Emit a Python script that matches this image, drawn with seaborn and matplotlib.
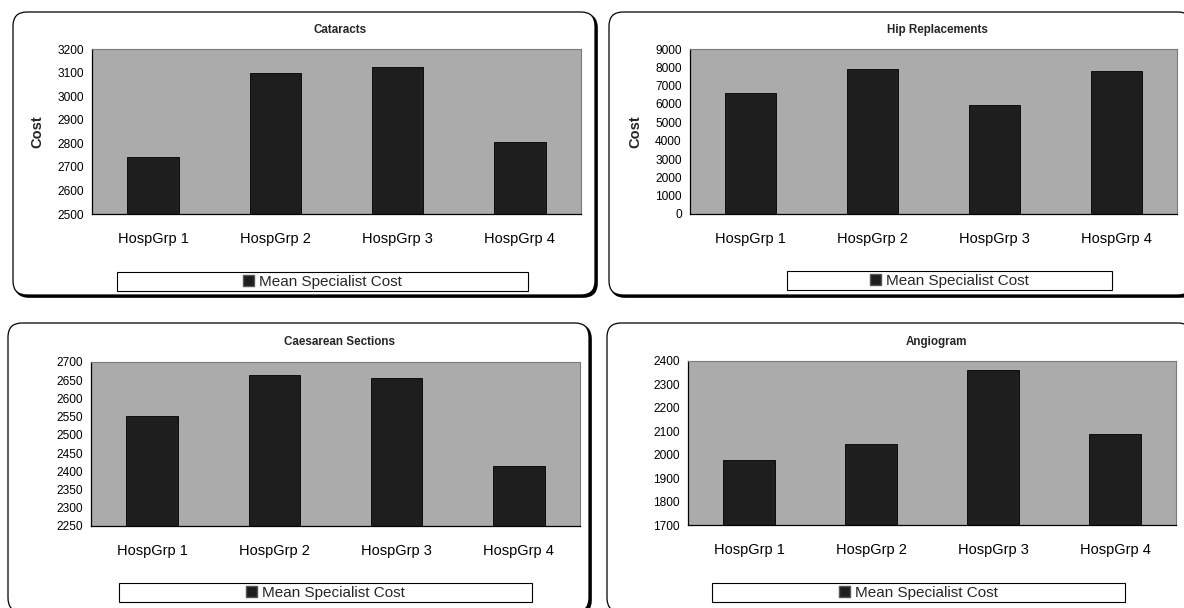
import matplotlib
matplotlib.use("Agg")
import matplotlib.pyplot as plt
from matplotlib.patches import FancyBboxPatch, Rectangle, Patch
import seaborn as sns
import pandas as pd

sns.set_theme(style="white")
plt.rcParams["font.family"] = ["Liberation Sans", "DejaVu Sans"]

W, H = 1184, 608

groups = ["HospGrp 1", "HospGrp 2", "HospGrp 3", "HospGrp 4"]
series_name = "Mean Specialist Cost"

cataracts = [2740, 3100, 3124, 2807]
hip_replacements = [6580, 7900, 5920, 7800]
caesarean = [2551, 2663, 2657, 2414]
angiogram = [1976, 2044, 2363, 2090]

cataracts_ticks = list(range(2500, 3201, 100))
hip_ticks = list(range(0, 9001, 1000))
caesarean_ticks = list(range(2250, 2701, 50))
angiogram_ticks = list(range(1700, 2401, 100))

PLOT_BG = "#ababab"
BAR = "#1e1e1e"


def frac(x0, y0, x1, y1):
    return [x0 / W, 1 - y1 / H, (x1 - x0) / W, (y1 - y0) / H]


fig = plt.figure(figsize=(W / 100, H / 100), dpi=100)
fig.patch.set_facecolor("white")

# background layer in pixel units for the rounded chart frames and legend boxes
bg = fig.add_axes([0, 0, 1, 1])
bg.set_xlim(0, W)
bg.set_ylim(H, 0)
bg.axis("off")
bg.set_zorder(-1)


def frame(x0, y0, x1, y1):
    r = 14
    shadow = FancyBboxPatch((x0 + r + 2, y0 + r + 2), (x1 - x0) - 2 * r, (y1 - y0) - 2 * r,
                            boxstyle=f"round,pad={r}", fc="black", ec="black", lw=1.2)
    bg.add_patch(shadow)
    box = FancyBboxPatch((x0 + r, y0 + r), (x1 - x0) - 2 * r, (y1 - y0) - 2 * r,
                         boxstyle=f"round,pad={r}", fc="white", ec="black", lw=0.9)
    bg.add_patch(box)


panels = [
    dict(title="Cataracts", values=cataracts, ticks=cataracts_ticks, ylabel="Cost",
         frame=(13, 12, 595, 295), plot=(92, 49, 581, 214), legend=(117, 272, 528, 291),
         title_y=30),
    dict(title="Hip Replacements", values=hip_replacements, ticks=hip_ticks, ylabel="Cost",
         frame=(609, 12, 1192, 295), plot=(690, 49, 1177, 214), legend=(787, 271, 1112, 290),
         title_y=30),
    dict(title="Caesarean Sections", values=caesarean, ticks=caesarean_ticks, ylabel=None,
         frame=(8, 323, 589, 612), plot=(91, 362, 580, 526), legend=(119, 583, 532, 602),
         title_y=342),
    dict(title="Angiogram", values=angiogram, ticks=angiogram_ticks, ylabel=None,
         frame=(607, 323, 1192, 612), plot=(688, 361, 1176, 525), legend=(712, 583, 1125, 602),
         title_y=342),
]

for p in panels:
    frame(*p["frame"])
    x0, y0, x1, y1 = p["plot"]
    ax = fig.add_axes(frac(x0, y0, x1, y1))
    df = pd.DataFrame({"group": groups, "cost": p["values"]})
    sns.barplot(data=df, x="group", y="cost", color=BAR, saturation=1, width=0.42,
                edgecolor="black", linewidth=0.6, ax=ax)
    ax.set_facecolor(PLOT_BG)
    ax.set_xlim(-0.5, 3.5)
    ax.set_ylim(p["ticks"][0], p["ticks"][-1])
    ax.set_yticks(p["ticks"])
    ax.set_yticklabels([str(t) for t in p["ticks"]], fontsize=8.6)
    ax.set_xticks(range(len(groups)))
    ax.set_xticklabels(groups, fontsize=10.5)
    ax.set_xticks([-0.5, 0.5, 1.5, 2.5, 3.5], minor=True)
    ax.tick_params(axis="x", which="major", length=0, pad=13, colors="black")
    ax.tick_params(axis="x", which="minor", length=4, width=0.8, direction="out", color="black")
    ax.tick_params(axis="y", length=4, width=0.8, direction="out", pad=2, colors="black")
    for s in ("left", "bottom"):
        ax.spines[s].set_color("black")
        ax.spines[s].set_linewidth(0.9)
    for s in ("top", "right"):
        ax.spines[s].set_color("#7a7a7a")
        ax.spines[s].set_linewidth(0.8)
    ax.set_xlabel("")
    if p["ylabel"]:
        ax.set_ylabel(p["ylabel"], fontsize=10.5, fontweight="bold", labelpad=9)
    else:
        ax.set_ylabel("")

    bg.text((x0 + x1) / 2 + 4, p["title_y"], p["title"], ha="center", va="center",
            fontsize=8.4, fontweight="bold")

    lx0, ly0, lx1, ly1 = p["legend"]
    bg.add_patch(Rectangle((lx0, ly0), lx1 - lx0, ly1 - ly0, fc="white", ec="black", lw=0.8))
    handle = Patch(facecolor=BAR, edgecolor="#555555", label=series_name)
    fig.legend(handles=[handle], loc="center",
               bbox_to_anchor=((lx0 + lx1) / 2 / W, 1 - (ly0 + ly1) / 2 / H),
               frameon=False, fontsize=11, handlelength=0.7, handleheight=0.7,
               handletextpad=0.3, borderpad=0, borderaxespad=0)

fig.savefig("out.png", dpi=100, facecolor="white")
